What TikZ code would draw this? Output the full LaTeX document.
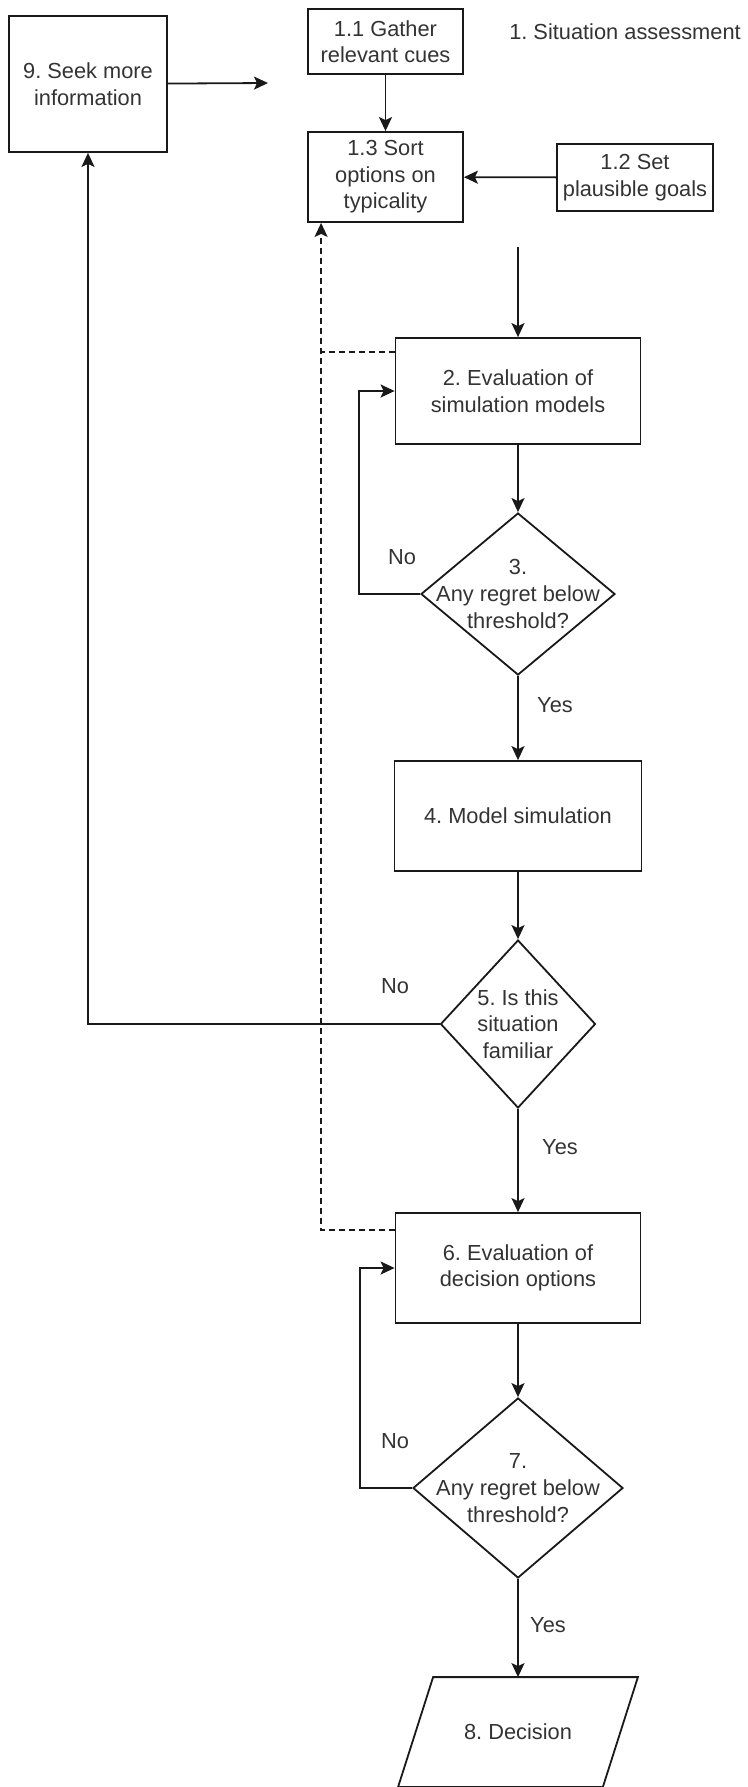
\documentclass[tikz,border=0pt]{standalone}
\usepackage{fontspec}
\setmainfont{Liberation Sans}
\usetikzlibrary{shapes.geometric, arrows.meta, positioning}
\definecolor{LineGray}{RGB}{25,25,25}
\definecolor{TextGray}{RGB}{51,51,51}
\frenchspacing

\begin{document}
\begin{tikzpicture}[x=0.5bp, y=-0.5bp,
    every node/.style={font=\fontsize{10.9bp}{13.3bp}\selectfont, text=TextGray},
    stepbox/.style={draw=LineGray, line width=0.9bp, align=center, inner sep=2bp},
    decision/.style={draw=LineGray, line width=0.9bp, diamond, inner sep=0pt},
    flow/.style={-{Stealth[length=7bp, width=6.5bp, inset=1.5bp]}, draw=LineGray, line width=0.9bp},
    dashline/.style={draw=LineGray, line width=0.9bp, dash pattern=on 3bp off 2bp}]
    \useasboundingbox (0,0) rectangle (748,1787);

    % Situation assessment
    \node (title) at (625,32) {1. Situation assessment};
    \node[stepbox, minimum width=77.5bp, minimum height=32.5bp] (gather) at (385.5,41.5) {1.1 Gather\\relevant cues};
    \node[stepbox, minimum width=77.5bp, minimum height=45bp] (sort) at (385.5,177) {1.3 Sort\\options on\\typicality};
    \node[stepbox, minimum width=78bp, minimum height=33.5bp] (goals) at (635,177.5) {1.2 Set\\plausible goals};
    \node[stepbox, minimum width=79bp, minimum height=68bp] (seek) at (88,84) {9. Seek more\\information};

    % Main steps
    \node[stepbox, minimum width=122.5bp, minimum height=53bp] (evalsim) at (518,391) {2. Evaluation of\\simulation models};
    \node[decision, minimum width=97bp, minimum height=81bp] (regretA) at (518,594) {};
    \node[align=center] (regretAtext) at (regretA) {3.\\Any regret below\\threshold?};
    \node[stepbox, minimum width=123.5bp, minimum height=55bp] (model) at (518,816) {4. Model simulation};
    \node[decision, minimum width=77.5bp, minimum height=84bp] (familiar) at (518,1024) {};
    \node[align=center] (familiartext) at (familiar) {5. Is this\\situation\\familiar};
    \node[stepbox, minimum width=122.5bp, minimum height=55bp] (evaldec) at (518,1268) {6. Evaluation of\\decision options};
    \node[decision, minimum width=105bp, minimum height=90bp] (regretB) at (518,1488) {};
    \node[align=center] (regretBtext) at (regretB) {7.\\Any regret below\\threshold?};
    \node[minimum width=102bp, minimum height=54.5bp, inner sep=0pt] (decide) at (518,1732) {8. Decision};
    \draw[LineGray, line width=0.9bp] ([xshift=8.75bp]decide.north west) -- ([xshift=8.75bp]decide.north east)
        -- ([xshift=-8.75bp]decide.south east) -- ([xshift=-8.75bp]decide.south west) -- cycle;

    % Yes / No labels
    \node (noA) at (402,557) {No};
    \node (yesA) at (555,705) {Yes};
    \node (noB) at (395,986) {No};
    \node (yesB) at (560,1147) {Yes};
    \node (noC) at (395,1441) {No};
    \node (yesC) at (548,1625) {Yes};

    % Connectors
    \coordinate (retry) at (268,83);
    \coordinate (entry) at (518,247);
    \draw[flow] (seek) -- (retry);
    \draw[flow] (gather) -- (sort);
    \draw[flow] (goals) -- (sort);
    \draw[flow] (entry) -- (evalsim);
    \draw[flow] (evalsim) -- (regretA);
    \draw[flow] (regretA.west) -- ++(-61,0) |- (evalsim.west);
    \draw[flow] (regretA) -- (model);
    \draw[flow] (model) -- (familiar);
    \draw[flow] (familiar.west) -| (seek.south);
    \draw[flow] (familiar) -- (evaldec);
    \draw[flow] (evaldec) -- (regretB);
    \draw[flow] (regretB.west) -- ++(-52,0) |- (evaldec.west);
    \draw[flow] (regretB) -- (decide);

    % Dashed feedback to 1.3
    \draw[dashline, -{Stealth[length=7bp, width=6.5bp, inset=1.5bp]}] ([yshift=-9bp]evaldec.north west) -| ([xshift=7bp]sort.south west);
    \draw[dashline] ([yshift=-7.5bp]evalsim.north west) -- ++(-75,0);
\end{tikzpicture}
\end{document}
